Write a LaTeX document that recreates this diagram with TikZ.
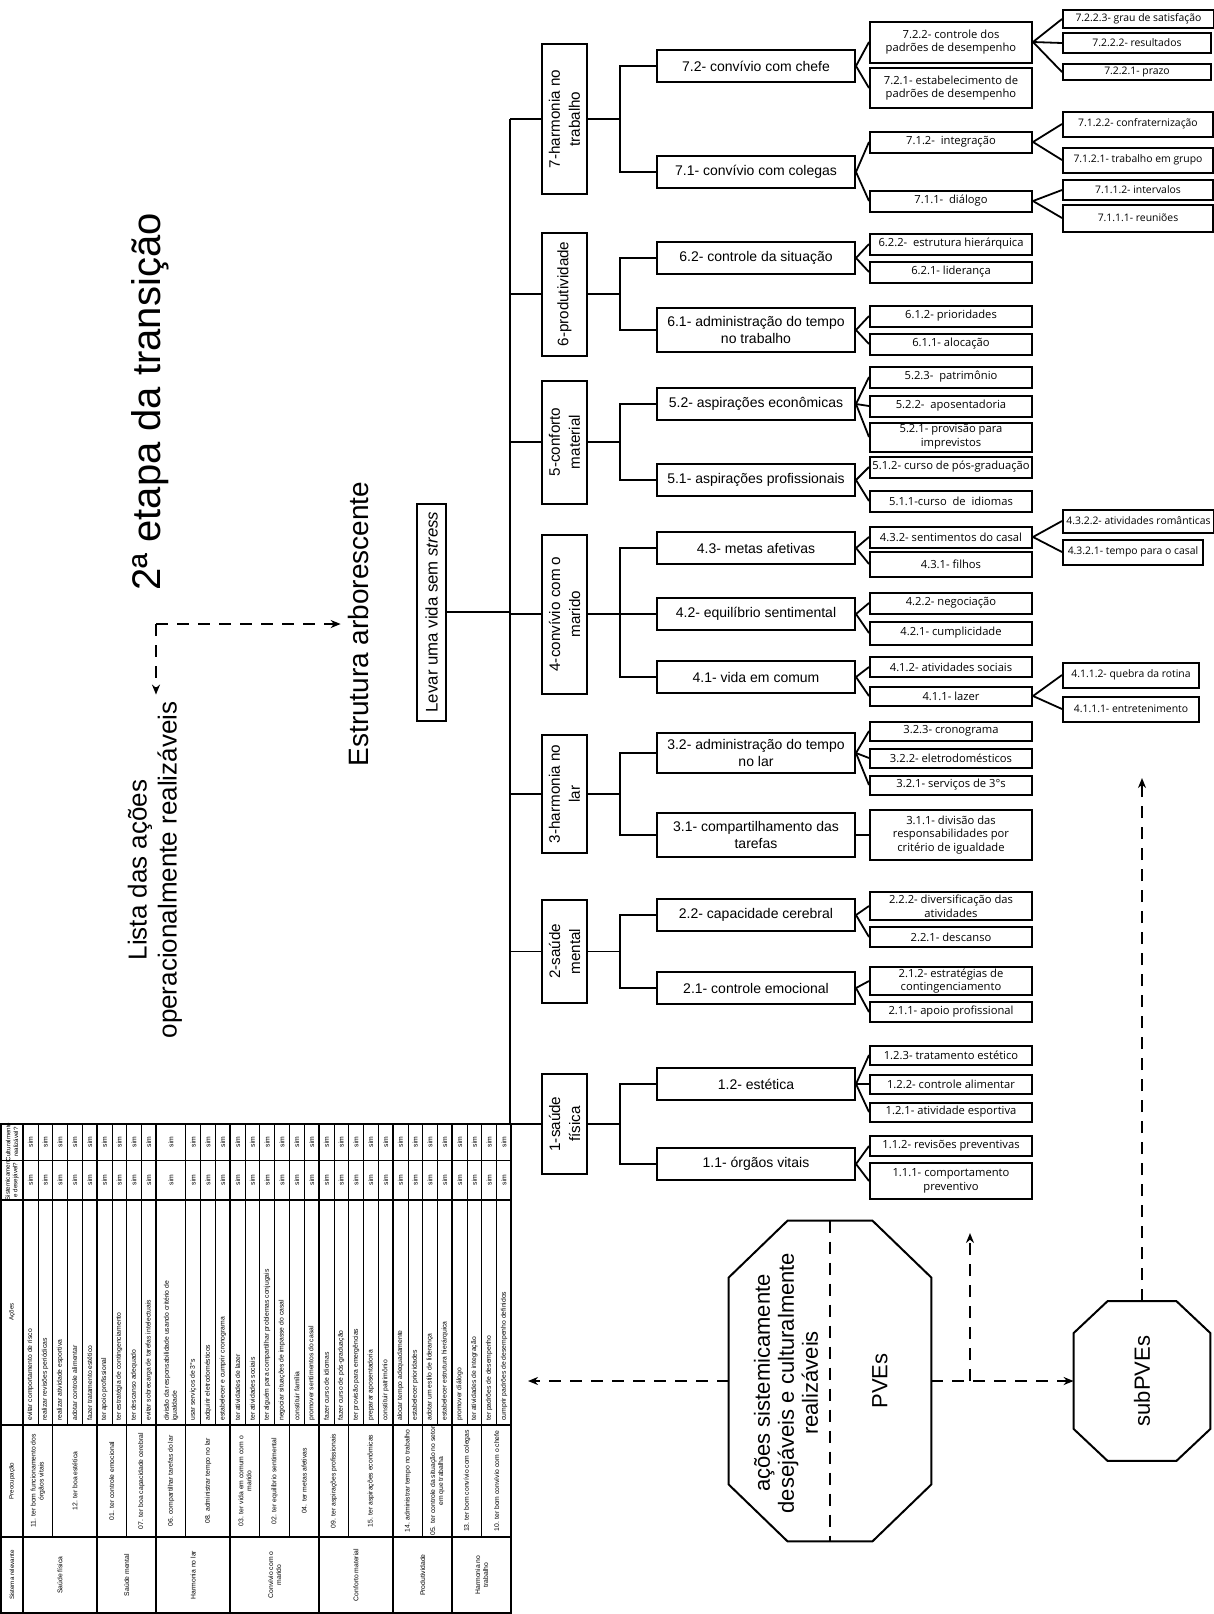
\documentclass[tikz,border=0pt]{standalone}
\usepackage{fontspec}
\setmainfont{Liberation Sans}
\newfontfamily\handfont{Open Sans}
\usetikzlibrary{arrows.meta, positioning}

\newcommand{\rootfont}{\fontsize{8.4}{10}\selectfont}
\newcommand{\lvonefont}{\fontsize{7.6}{10}\selectfont}
\newcommand{\lvtwofont}{\fontsize{7}{8.2}\selectfont}
\newcommand{\lvthreefont}{\handfont\fontsize{5.6}{6.8}\selectfont}
\newcommand{\lvfourfont}{\handfont\fontsize{5.2}{6}\selectfont}
\newcommand{\tabfont}{\fontsize{3.4}{4}\selectfont}
\newcommand{\headfont}{\fontsize{3.1}{3.8}\selectfont}
\newcommand{\octfont}{\fontsize{11}{12}\selectfont}
\def\tu{14.8}

\begin{document}
\begin{tikzpicture}[x=0.5pt, y=-0.5pt, >={Stealth[length=5pt,width=4pt]},
    rootbox/.style={draw, line width=1pt, rotate=90, font=\rootfont, minimum width=108.5pt, minimum height=14.5pt, inner sep=1pt},
    lvone/.style={draw, line width=1pt, rotate=90, font=\lvonefont, align=center, minimum height=22.5pt, inner sep=1pt},
    lvtwo/.style={draw, line width=1pt, font=\lvtwofont, align=center, minimum width=99pt, minimum height=16pt, inner sep=1pt},
    lvthree/.style={draw, line width=1pt, font=\lvthreefont, align=center, minimum width=81pt, minimum height=10.5pt, inner xsep=1pt, inner ysep=0.5pt},
    lvfour/.style={draw, line width=1pt, font=\lvfourfont, align=center, anchor=west, minimum height=9pt, inner xsep=1pt, inner ysep=0.5pt},
    link/.style={line width=0.9pt},
    flow/.style={line width=0.9pt, dash pattern=on 6pt off 4.5pt},
    octa/.style={inner sep=0pt},
    octline/.style={line width=1pt, line join=miter},
    tabtext/.style={font=\tabfont, rotate=90, inner sep=0.5pt},
    tabthin/.style={line width=0.3pt},
    tabmid/.style={line width=0.6pt},
    tabthick/.style={line width=0.9pt}]
  \useasboundingbox (0,0) rectangle (1214,1614);

  % Titles
  \node[rotate=90, font=\fontsize{20}{24}\selectfont] (etapa) at (150,402) {2ª etapa da transição};
  \node[rotate=90, font=\fontsize{13}{15}\selectfont, align=center] (lista) at (155,870) {Lista das ações\\operacionalmente realizáveis};
  \node[rotate=90, font=\fontsize{14}{16}\selectfont] (estrutura) at (358,624) {Estrutura arborescente};

  \coordinate (fork) at (156,624);
  \draw[flow, ->] (fork) -- (estrutura.north);
  \draw[flow, ->] (fork) -- (fork |- lista.east);

  % Root and trunk
  \node[rootbox] (levar) at (431.5,612) {Levar uma vida sem \textit{stress}};
  \coordinate (trunk) at (510,0);
  \coordinate (brk) at (620,0);

  % Level 1
  \node[lvone, minimum width=75pt] (n7) at (564.5,119) {7-harmonia no\\trabalho};
  \node[lvone, minimum width=61.5pt] (n6) at (564.5,294) {6-produtividade};
  \node[lvone, minimum width=61.5pt] (n5) at (564.5,442) {5-conforto\\material};
  \node[lvone, minimum width=79.5pt] (n4) at (564.5,614) {4-convívio com o\\marido};
  \node[lvone, minimum width=59pt] (n3) at (564.5,794) {3-harmonia no\\lar};
  \node[lvone, minimum width=51.5pt] (n2) at (564.5,951.5) {2-saúde\\mental};
  \node[lvone, minimum width=50pt] (n1) at (564.5,1124) {1-saúde\\física};

  % Level 2
  \node[lvtwo] (n72) at (756,66) {7.2- convívio com chefe};
  \node[lvtwo] (n71) at (756,172) {7.1- convívio com colegas};
  \node[lvtwo] (n62) at (756,258) {6.2- controle da situação};
  \node[lvtwo, minimum height=22pt] (n61) at (756,330) {6.1- administração do tempo\\no trabalho};
  \node[lvtwo] (n52) at (756,404) {5.2- aspirações econômicas};
  \node[lvtwo] (n51) at (756,480) {5.1- aspirações profissionais};
  \node[lvtwo] (n43) at (756,548) {4.3- metas afetivas};
  \node[lvtwo] (n42) at (756,614) {4.2- equilíbrio sentimental};
  \node[lvtwo] (n41) at (756,677) {4.1- vida em comum};
  \node[lvtwo, minimum height=20pt] (n32) at (756,753) {3.2- administração do tempo\\no lar};
  \node[lvtwo, minimum height=22pt] (n31) at (756,835) {3.1- compartilhamento das\\tarefas};
  \node[lvtwo] (n22) at (756,915) {2.2- capacidade cerebral};
  \node[lvtwo] (n21) at (756,988) {2.1- controle emocional};
  \node[lvtwo] (n12) at (756,1084) {1.2- estética};
  \node[lvtwo] (n11) at (756,1164) {1.1- órgãos vitais};

  % Level 3
  \node[lvthree, minimum height=20.5pt] (n722) at (951,42) {7.2.2- controle dos\\padrões de desempenho};
  \node[lvthree, minimum height=20pt] (n721) at (951,88) {7.2.1- estabelecimento de\\padrões de desempenho};
  \node[lvthree] (n712) at (951,142) {7.1.2-\ \ integração};
  \node[lvthree] (n711) at (951,201) {7.1.1-\ \ diálogo};
  \node[lvthree] (n622) at (951,244) {6.2.2-\ \ estrutura hierárquica};
  \node[lvthree] (n621) at (951,272) {6.2.1- liderança};
  \node[lvthree] (n612) at (951,316) {6.1.2- prioridades};
  \node[lvthree] (n611) at (951,344) {6.1.1- alocação};
  \node[lvthree] (n523) at (951,377) {5.2.3-\ \ patrimônio};
  \node[lvthree] (n522) at (951,406) {5.2.2-\ \ aposentadoria};
  \node[lvthree, minimum height=14.5pt] (n521) at (951,437) {5.2.1- provisão para\\imprevistos};
  \node[lvthree] (n512) at (951,467) {5.1.2- curso de pós-graduação};
  \node[lvthree] (n511) at (951,501) {5.1.1-curso\ \ de\ \ idiomas};
  \node[lvthree] (n432) at (951,537) {4.3.2- sentimentos do casal};
  \node[lvthree, minimum height=12.5pt] (n431) at (951,564) {4.3.1- filhos};
  \node[lvthree] (n422) at (951,603) {4.2.2- negociação};
  \node[lvthree, minimum height=11.5pt] (n421) at (951,633) {4.2.1- cumplicidade};
  \node[lvthree, minimum height=10pt] (n412) at (951,667) {4.1.2- atividades sociais};
  \node[lvthree, minimum height=9.5pt] (n411) at (951,696) {4.1.1- lazer};
  \node[lvthree, minimum height=9.5pt] (n323) at (951,731) {3.2.3- cronograma};
  \node[lvthree, minimum height=9.5pt] (n322) at (951,758) {3.2.2- eletrodomésticos};
  \node[lvthree, minimum height=9.5pt] (n321) at (951,785) {3.2.1- serviços de 3°s};
  \node[lvthree, minimum height=25pt] (n311) at (951,835) {3.1.1- divisão das\\responsabilidades por\\critério de igualdade};
  \node[lvthree, minimum height=14pt] (n222) at (951,906) {2.2.2- diversificação das\\atividades};
  \node[lvthree, minimum height=10pt] (n221) at (951,937) {2.2.1- descanso};
  \node[lvthree, minimum height=14pt] (n212) at (951,981) {2.1.2- estratégias de\\contingenciamento};
  \node[lvthree, minimum height=10pt] (n211) at (951,1012) {2.1.1- apoio profissional};
  \node[lvthree, minimum height=9.5pt] (n123) at (951,1055) {1.2.3- tratamento estético};
  \node[lvthree, minimum height=9.5pt] (n122) at (951,1084) {1.2.2- controle alimentar};
  \node[lvthree, minimum height=9.5pt] (n121) at (951,1112) {1.2.1- atividade esportiva};
  \node[lvthree, minimum height=10pt] (n112) at (951,1146) {1.1.2- revisões preventivas};
  \node[lvthree, minimum height=18pt] (n111) at (951,1181) {1.1.1- comportamento\\preventivo};

  % Level 4
  \node[lvfour, minimum width=75.5pt] (n7223) at (1062,19) {7.2.2.3- grau de satisfação};
  \node[lvfour, minimum width=74pt, minimum height=10pt] (n7222) at (1062,43) {7.2.2.2- resultados};
  \node[lvfour, minimum width=74pt, minimum height=8pt] (n7221) at (1062,72) {7.2.2.1- prazo};
  \node[lvfour, minimum width=75pt, minimum height=12.5pt] (n7122) at (1062,124) {7.1.2.2- confraternização};
  \node[lvfour, minimum width=75pt, minimum height=12.5pt] (n7121) at (1062,160) {7.1.2.1- trabalho em grupo};
  \node[lvfour, minimum width=75pt, minimum height=10pt] (n7112) at (1062,190) {7.1.1.2- intervalos};
  \node[lvfour, minimum width=75pt, minimum height=13.5pt] (n7111) at (1062,218) {7.1.1.1- reuniões};
  \node[lvfour, minimum width=75.5pt, minimum height=11.5pt] (n4322) at (1062,521) {4.3.2.2- atividades românticas};
  \node[lvfour, minimum width=70pt, minimum height=12.5pt] (n4321) at (1062,552) {4.3.2.1- tempo para o casal};
  \node[lvfour, minimum width=68pt, minimum height=12.5pt] (n4112) at (1062,675) {4.1.1.2- quebra da rotina};
  \node[lvfour, minimum width=68pt, minimum height=12.5pt] (n4111) at (1062,709) {4.1.1.1- entretenimento};

  % Trunk
  \draw[link] (levar.south) -- (levar.south -| trunk);
  \draw[link] (n7.north -| trunk) -- (n1.north -| trunk);
  \foreach \p in {n7,n6,n5,n4,n3,n2,n1}
    \draw[link] (\p.north -| trunk) -- (\p.north);

  % Brackets to level 2
  \foreach \p/\f/\l in {n7/n72/n71, n6/n62/n61, n5/n52/n51, n4/n43/n41, n3/n32/n31, n2/n22/n21, n1/n12/n11} {
    \draw[link] (\p.south) -- (\p.south -| brk);
    \draw[link] (\f.west) -- (\f.west -| brk) -- (\l.west -| brk) -- (\l.west);
  }
  \draw[link] (n42.west) -- (n42.west -| brk);

  % Fans to level 3 and 4
  \foreach \a/\b in {n72/n722, n72/n721, n71/n712, n71/n711, n62/n622, n62/n621, n61/n612, n61/n611,
      n52/n523, n52/n522, n52/n521, n51/n512, n51/n511, n43/n432, n43/n431, n42/n422, n42/n421,
      n41/n412, n41/n411, n32/n323, n32/n322, n32/n321, n31/n311, n22/n222, n22/n221, n21/n212, n21/n211,
      n12/n123, n12/n122, n12/n121, n11/n112, n11/n111,
      n722/n7223, n722/n7222, n722/n7221, n712/n7122, n712/n7121, n711/n7112, n711/n7111,
      n432/n4322, n432/n4321, n411/n4112, n411/n4111}
    \draw[link] (\a.east) -- (\b.west);

  % PVEs
  \node[octa, minimum width=101pt, minimum height=160pt] (pve) at (830,1381) {};
  \node[octa, minimum width=68pt, minimum height=79.5pt] (subpve) at (1142,1381) {};
  \foreach \n/\cx/\cy in {pve/29.5pt/28.5pt, subpve/17pt/16pt}
    \draw[octline] ([xshift=\cx]\n.north west) -- ([xshift=-\cx]\n.north east) -- ([yshift=-\cy]\n.north east)
      -- ([yshift=\cy]\n.south east) -- ([xshift=-\cx]\n.south east) -- ([xshift=\cx]\n.south west)
      -- ([yshift=\cy]\n.south west) -- ([yshift=-\cy]\n.north west) -- cycle;
  \node[rotate=90, font=\octfont, align=center] (pvetext) at (786,1383) {ações sistemicamente\\desejáveis e culturalmente\\realizáveis};
  \node[rotate=90, font=\octfont] (pvelabel) at (880,1381) {PVEs};
  \draw[flow] (pve.north) -- (pve.south);
  \node[rotate=90, font=\octfont] (sublabel) at (1142,1381) {subPVEs};

  \coordinate (leftend) at (528,1381);
  \coordinate (upfoot) at (970,1381);
  \coordinate (uptop) at (970,1233);
  \coordinate (subtop) at (1142,778);
  \draw[flow, ->] (pve.west) -- (leftend);
  \draw[flow, ->] (pve.east) -- (subpve.west);
  \draw[flow, ->] (upfoot) -- (uptop);
  \draw[flow, ->] (subpve.north) -- (subtop);

  % Table
  \draw[tabthick] (1,1124) rectangle (511,1613);
  \draw[tabthick] (23,1124) -- (23,1613);
  \draw[tabthin] (1,1160) -- (511,1160);
  \foreach \y in {1200,1425,1537}
    \draw[tabthick] (1,\y) -- (511,\y);
  \foreach \k in {1,3,4,6,8,12,13,15,17,19,21,23,24,26,28,30,32}
    \draw[tabthin] ({23+\k*\tu},1124) -- ({23+\k*\tu},1425);
  \foreach \k in {2,7,11,16,18,22,27,31}
    \draw[tabmid] ({23+\k*\tu},1124) -- ({23+\k*\tu},1537);
  \foreach \k in {5,9,14,20,25,29}
    \draw[tabthick] ({23+\k*\tu},1124) -- ({23+\k*\tu},1613);

  \node[tabtext, font=\headfont] (hsis) at (12,1575) {Sistema relevante};
  \node[tabtext, font=\headfont] (hpre) at (12,1481) {Preocupação};
  \node[tabtext, font=\headfont] (hacao) at (12,1312) {Ações};
  \node[tabtext, font=\headfont, align=center] (hdes) at (12,1180) {Sistemicament\\e desejável?};
  \node[tabtext, font=\headfont, align=center] (hcul) at (12,1142) {Culturalmente\\realizável?};

  \foreach \s/\k/\t in {0/1/{evitar comportamento de risco}, 1/1/{realizar revisões periódicas},
      2/1/{realizar atividade esportiva}, 3/1/{adotar controle alimentar}, 4/1/{fazer tratamento estético},
      5/1/{ter apoio profissional}, 6/1/{ter estratégia de contingenciamento}, 7/1/{ter descanso adequado},
      8/1/{evitar sobrecarga de tarefas intelectuais}, 9/2/{divisão da responsabilidade usando critério de\\igualdade},
      11/1/{usar serviços de 3°s}, 12/1/{adquirir eletrodomésticos}, 13/1/{estabelecer e cumprir cronograma},
      14/1/{ter atividades de lazer}, 15/1/{ter atividades sociais}, 16/1/{ter alguém para compartilhar problemas conjugais},
      17/1/{negociar situações de impasse do casal}, 18/1/{constituir família}, 19/1/{promover sentimentos do casal},
      20/1/{fazer curso de idiomas}, 21/1/{fazer curso de pós-graduação}, 22/1/{ter provisão para emergências},
      23/1/{preparar aposentadoria}, 24/1/{constituir patrimônio}, 25/1/{alocar tempo adequadamente},
      26/1/{estabelecer prioridades}, 27/1/{adotar um estilo de liderança}, 28/1/{estabelecer estrutura hierárquica},
      29/1/{promover diálogo}, 30/1/{ter atividades de integração}, 31/1/{ter padrões de desempenho},
      32/1/{cumprir padrões de desempenho definidos}} {
    \node[tabtext, anchor=west, align=left] (acao\s) at ({23+(\s+\k/2)*\tu},1422) {\t};
    \node[tabtext] (des\s) at ({23+(\s+\k/2)*\tu},1180) {sim};
    \node[tabtext] (cul\s) at ({23+(\s+\k/2)*\tu},1142) {sim};
  }

  \foreach \s/\k/\t in {0/2/{11. ter bom funcionamento dos\\órgãos vitais}, 2/3/{12. ter boa estética},
      5/2/{01. ter controle emocional}, 7/2/{07. ter boa capacidade cerebral}, 9/2/{06. compartilhar tarefas do lar},
      11/3/{08. administrar tempo no lar}, 14/2/{03. ter vida em comum com o\\marido}, 16/2/{02. ter equilíbrio sentimental},
      18/2/{04. ter metas afetivas}, 20/2/{09. ter aspirações profissionais}, 22/3/{15. ter aspirações econômicas},
      25/2/{14. administrar tempo no trabalho}, 27/2/{05. ter controle da situação no setor\\em que trabalha},
      29/2/{13. ter bom convívio com colegas}, 31/2/{10. ter bom convívio com o chefe}}
    \node[tabtext, align=center] (pre\s) at ({23+(\s+\k/2)*\tu},1481) {\t};

  \foreach \s/\k/\t in {0/5/{Saúde física}, 5/4/{Saúde mental}, 9/5/{Harmonia no lar}, 14/6/{Convívio com o\\marido},
      20/5/{Conforto material}, 25/4/{Produtividade}, 29/4/{Harmonia no\\trabalho}}
    \node[tabtext, align=center] (sis\s) at ({23+(\s+\k/2)*\tu},1575) {\t};
\end{tikzpicture}
\end{document}
